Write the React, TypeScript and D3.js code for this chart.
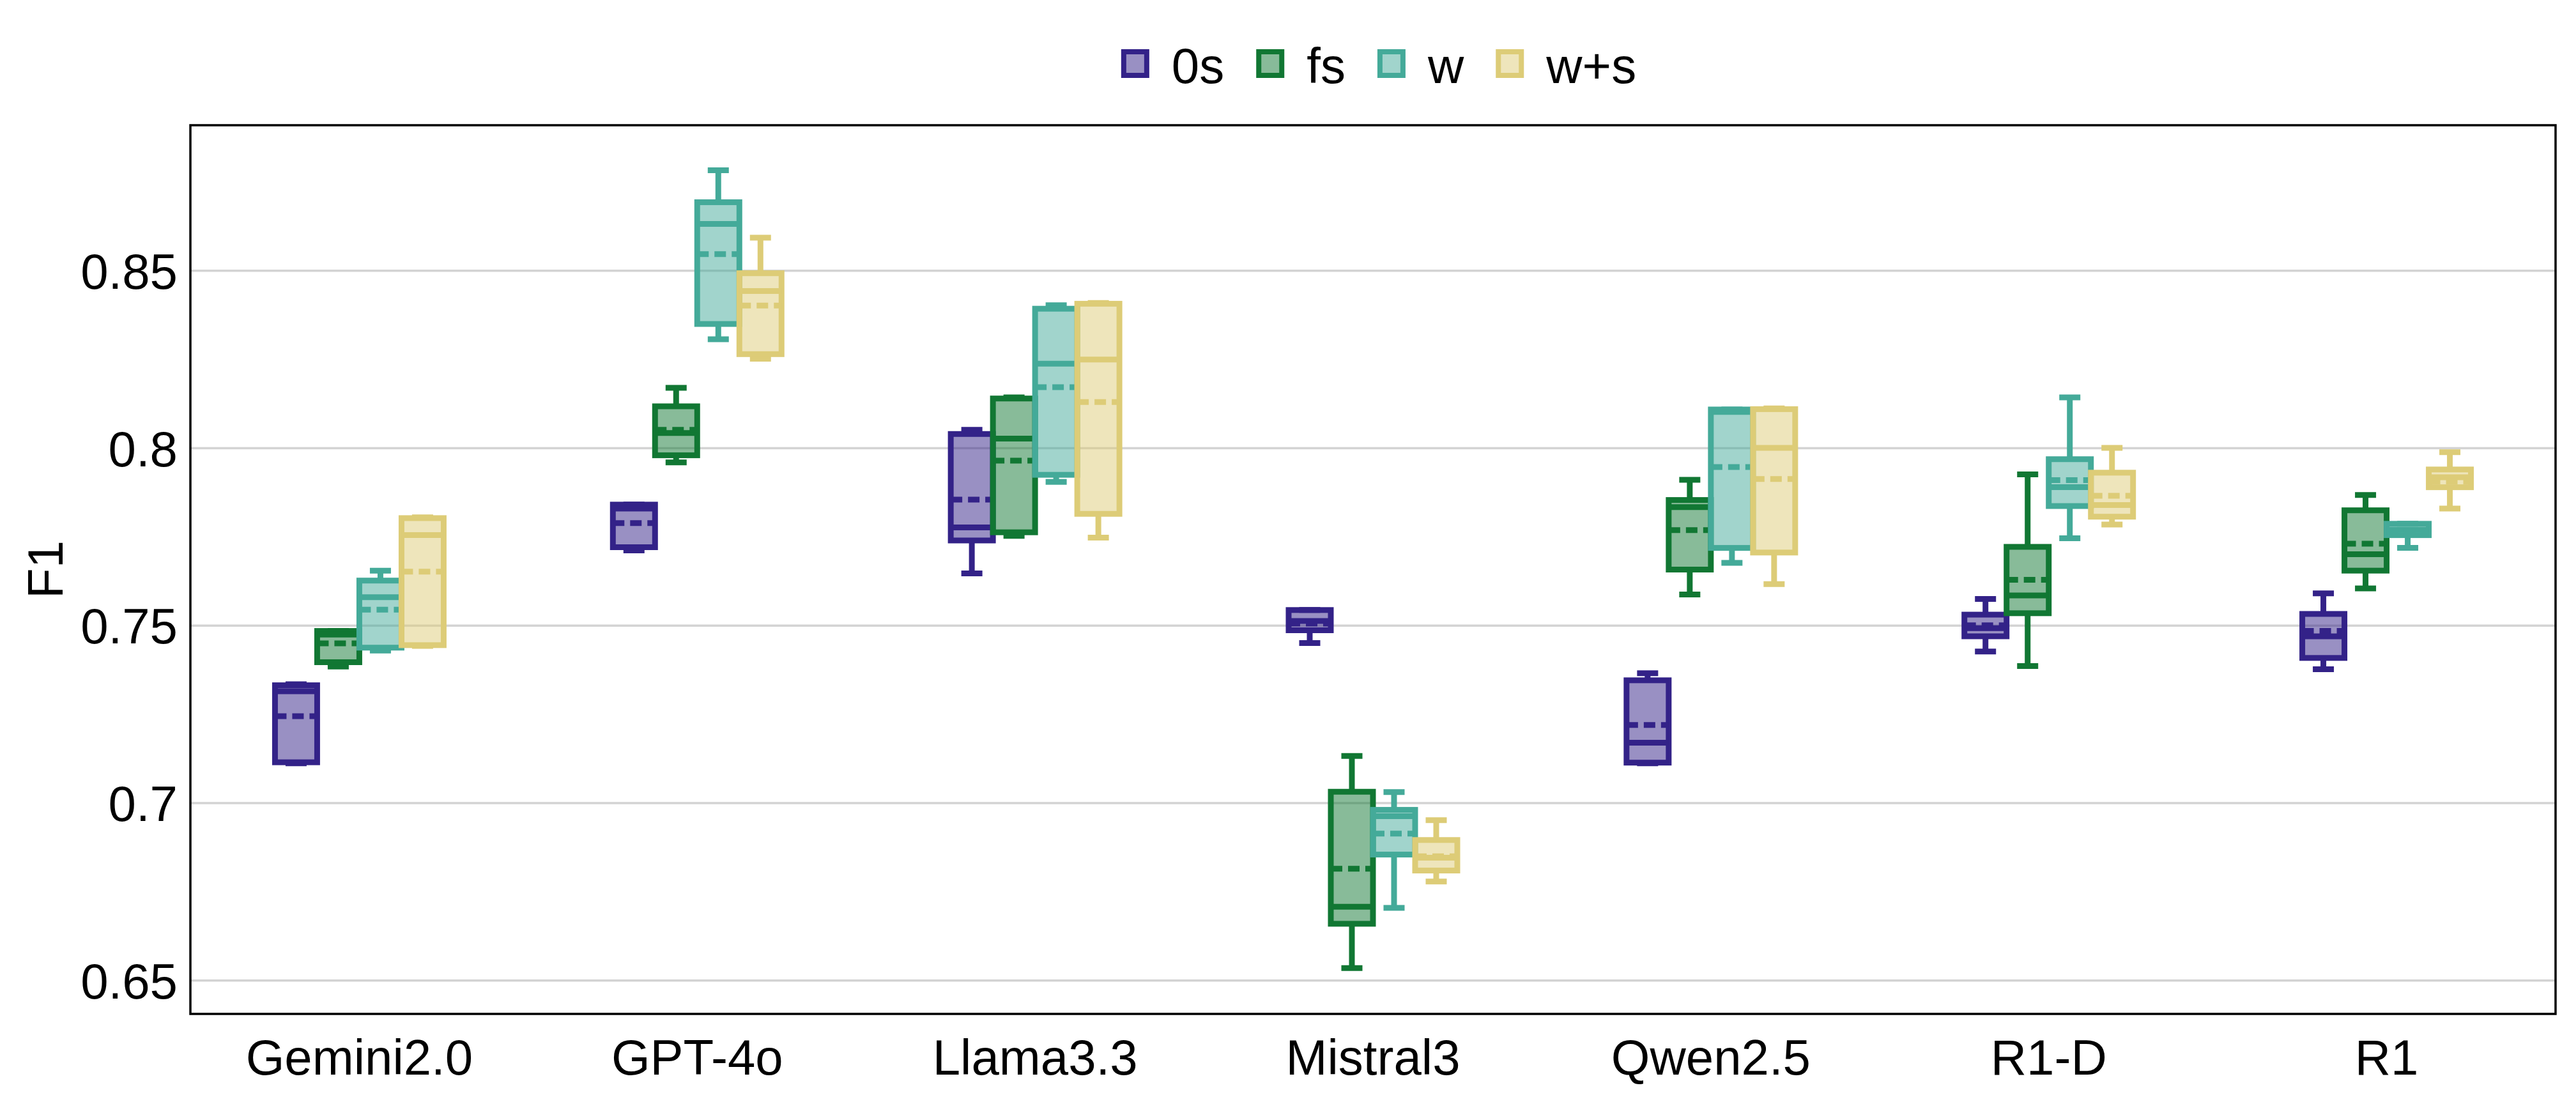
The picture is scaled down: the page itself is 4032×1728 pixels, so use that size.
import { useEffect, useRef } from "react";
import * as d3 from "d3";

const categories = ["Gemini2.0", "GPT-4o", "Llama3.3", "Mistral3", "Qwen2.5", "R1-D", "R1"];
const seriesNames = ["0s", "fs", "w", "w+s"];
const seriesColors = ["#332288", "#117733", "#44AA99", "#DDCC77"];

// each row: [whiskerLow, q1, median, q3, whiskerHigh, mean], one row per category
const zeroShot = [
  [0.7112, 0.7115, 0.7315, 0.7332, 0.7335, 0.7245],
  [0.7712, 0.7721, 0.783, 0.7841, 0.7841, 0.7789],
  [0.7647, 0.774, 0.7777, 0.804, 0.8052, 0.7855],
  [0.7451, 0.7487, 0.7513, 0.7544, 0.7544, 0.7506],
  [0.7112, 0.7114, 0.717, 0.7346, 0.7366, 0.722],
  [0.7427, 0.747, 0.7493, 0.7531, 0.7575, 0.7501],
  [0.7377, 0.7409, 0.747, 0.7533, 0.7591, 0.7485],
];
const fewShot = [
  [0.7385, 0.7397, 0.7475, 0.7485, 0.7485, 0.745],
  [0.796, 0.798, 0.8043, 0.8118, 0.817, 0.8052],
  [0.7753, 0.7763, 0.8027, 0.814, 0.8143, 0.7965],
  [0.6535, 0.666, 0.6708, 0.7032, 0.7133, 0.6815],
  [0.7588, 0.7658, 0.7834, 0.7854, 0.7911, 0.7769],
  [0.7386, 0.7535, 0.7585, 0.7722, 0.7926, 0.7629],
  [0.7605, 0.7655, 0.7701, 0.7825, 0.7868, 0.7731],
];
const withW = [
  [0.743, 0.7438, 0.758, 0.7627, 0.7655, 0.7545],
  [0.8307, 0.835, 0.8632, 0.8693, 0.8783, 0.8547],
  [0.7905, 0.7925, 0.8238, 0.8393, 0.8403, 0.8172],
  [0.6705, 0.6855, 0.6963, 0.6981, 0.7031, 0.6914],
  [0.7677, 0.7719, 0.8102, 0.8109, 0.8109, 0.7947],
  [0.7746, 0.7837, 0.789, 0.7969, 0.8143, 0.791],
  [0.7719, 0.7755, 0.777, 0.7787, 0.7787, 0.7764],
];
const withWS = [
  [0.7443, 0.7445, 0.7755, 0.7803, 0.7805, 0.7652],
  [0.8252, 0.8265, 0.8443, 0.8493, 0.8593, 0.8402],
  [0.7748, 0.7815, 0.825, 0.8407, 0.8409, 0.813],
  [0.6779, 0.681, 0.6846, 0.6896, 0.6952, 0.685],
  [0.7617, 0.7706, 0.8001, 0.811, 0.8112, 0.7913],
  [0.7785, 0.7807, 0.784, 0.7931, 0.8001, 0.7866],
  [0.783, 0.789, 0.7918, 0.794, 0.7989, 0.7906],
];
const seriesStats = [zeroShot, fewShot, withW, withWS];

const yTicks = [0.65, 0.7, 0.75, 0.8, 0.85];
const yTickLabels = ["0.65", "0.7", "0.75", "0.8", "0.85"];

const WIDTH = 4032;
const HEIGHT = 1728;
const MARGIN = { top: 196, right: 32, bottom: 141, left: 298 };
const FONT = "'Liberation Sans', Arial, Helvetica, sans-serif";
const FONT_SIZE = 78;
const SW = 9;

const App = () => {
  const svgRef = useRef(null);

  useEffect(() => {
    const svg = d3.select(svgRef.current);
    svg.selectAll("*").remove();

    const x0 = MARGIN.left;
    const x1 = WIDTH - MARGIN.right;
    const y0 = MARGIN.top;
    const y1 = HEIGHT - MARGIN.bottom;

    const x = d3.scaleBand().domain(categories).range([x0, x1]).padding(0);
    const hue = d3.scaleBand().domain(seriesNames).range([-132, 132]).padding(0);
    const y = d3.scaleLinear().domain([0.6406, 0.891]).range([y1, y0]);
    const color = d3.scaleOrdinal().domain(seriesNames).range(seriesColors);

    svg.append("rect").attr("width", WIDTH).attr("height", HEIGHT).attr("fill", "white");

    // grid
    svg
      .append("g")
      .selectAll("line")
      .data(yTicks)
      .join("line")
      .attr("x1", x0)
      .attr("x2", x1)
      .attr("y1", (d) => y(d))
      .attr("y2", (d) => y(d))
      .attr("stroke", "#d3d3d3")
      .attr("stroke-width", 3.5);

    // y tick labels
    svg
      .append("g")
      .selectAll("text")
      .data(yTicks)
      .join("text")
      .attr("x", x0 - 20)
      .attr("y", (d) => y(d))
      .attr("dy", "0.36em")
      .attr("text-anchor", "end")
      .attr("font-family", FONT)
      .attr("font-size", FONT_SIZE)
      .text((d, i) => yTickLabels[i]);

    // x labels
    svg
      .append("g")
      .selectAll("text")
      .data(categories)
      .join("text")
      .attr("x", (d) => x(d) + x.bandwidth() / 2)
      .attr("y", 1682)
      .attr("text-anchor", "middle")
      .attr("font-family", FONT)
      .attr("font-size", FONT_SIZE)
      .text((d) => d);

    svg
      .append("text")
      .attr("transform", `translate(98,${(y0 + y1) / 2}) rotate(-90)`)
      .attr("text-anchor", "middle")
      .attr("font-family", FONT)
      .attr("font-size", FONT_SIZE)
      .text("F1");

    // boxes
    const boxW = hue.bandwidth();
    const capW = boxW / 2;
    seriesNames.forEach((name, si) => {
      const c = color(name);
      const g = svg.append("g");
      seriesStats[si].forEach((s, ci) => {
        const [lo, q1, med, q3, hi, mean] = s;
        const cx = x(categories[ci]) + x.bandwidth() / 2 + hue(name) + boxW / 2;
        const bx = cx - boxW / 2;
        const b = g.append("g");
        b.append("line").attr("x1", cx).attr("x2", cx).attr("y1", y(q3)).attr("y2", y(hi))
          .attr("stroke", c).attr("stroke-width", SW);
        b.append("line").attr("x1", cx).attr("x2", cx).attr("y1", y(q1)).attr("y2", y(lo))
          .attr("stroke", c).attr("stroke-width", SW);
        [hi, lo].forEach((v) => {
          b.append("line").attr("x1", cx - capW / 2).attr("x2", cx + capW / 2)
            .attr("y1", y(v)).attr("y2", y(v)).attr("stroke", c).attr("stroke-width", SW);
        });
        b.append("rect")
          .attr("x", bx)
          .attr("y", y(q3))
          .attr("width", boxW)
          .attr("height", Math.max(0, y(q1) - y(q3)))
          .attr("fill", c)
          .attr("fill-opacity", 0.5)
          .attr("stroke", c)
          .attr("stroke-width", SW);
        b.append("line").attr("x1", bx).attr("x2", bx + boxW).attr("y1", y(med)).attr("y2", y(med))
          .attr("stroke", c).attr("stroke-width", SW);
        b.append("line").attr("x1", bx).attr("x2", bx + boxW).attr("y1", y(mean)).attr("y2", y(mean))
          .attr("stroke", c).attr("stroke-width", SW).attr("stroke-dasharray", "18 9");
      });
    });

    // frame
    svg.append("rect")
      .attr("x", x0).attr("y", y0).attr("width", x1 - x0).attr("height", y1 - y0)
      .attr("fill", "none").attr("stroke", "black").attr("stroke-width", 3.5);

    // legend
    const legend = svg.append("g");
    const items = seriesNames.map((name) => {
      const item = legend.append("g");
      item.append("rect")
        .attr("x", 4).attr("y", 81).attr("width", 36).attr("height", 37)
        .attr("fill", color(name)).attr("fill-opacity", 0.5)
        .attr("stroke", color(name)).attr("stroke-width", 8);
      const t = item.append("text")
        .attr("x", 79).attr("y", 130)
        .attr("font-family", FONT).attr("font-size", FONT_SIZE)
        .text(name);
      const tw = t.node().getComputedTextLength();
      return { item, w: 79 + tw };
    });
    const gap = 50;
    const total = d3.sum(items, (d) => d.w) + gap * (items.length - 1);
    let lx = 2158 - total / 2;
    items.forEach((d) => {
      d.item.attr("transform", `translate(${lx},0)`);
      lx += d.w + gap;
    });
  }, []);

  return (
    <svg
      ref={svgRef}
      width={WIDTH}
      height={HEIGHT}
      style={{ position: "absolute", left: 0, top: 0, display: "block" }}
    />
  );
};

export default App;
